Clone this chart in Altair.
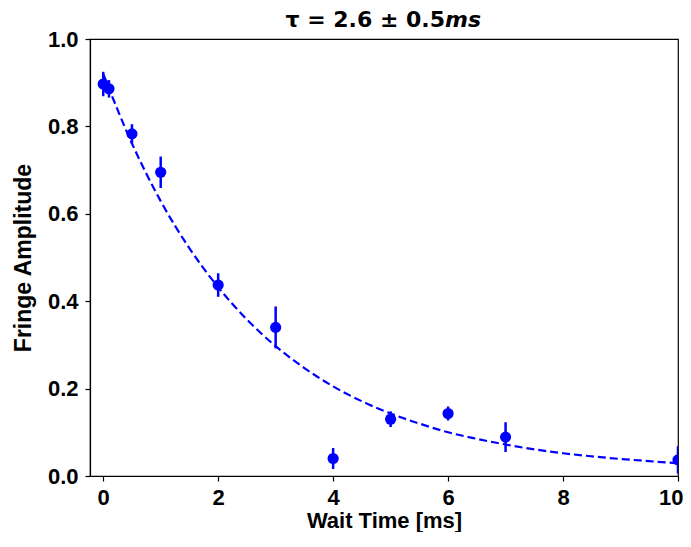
import altair as alt
import pandas as pd

# measured data
wait_time = [0.0, 0.1, 0.5, 1.0, 2.0, 3.0, 4.0, 5.0, 6.0, 7.0, 10.0]
amplitude = [0.897, 0.886, 0.783, 0.695, 0.437, 0.340, 0.040, 0.130, 0.143, 0.089, 0.037]
amp_err = [0.028, 0.020, 0.022, 0.036, 0.027, 0.048, 0.024, 0.018, 0.016, 0.034, 0.031]

# fit curve
fit_t = [0.0, 0.5, 1.0, 1.5, 2.0, 2.5, 3.0, 3.5, 4.0, 4.5, 5.0, 5.5, 6.0, 6.5, 7.0,
         7.5, 8.0, 8.5, 9.0, 9.5, 10.0]
fit_y = [0.920, 0.761, 0.629, 0.521, 0.432, 0.358, 0.297, 0.247, 0.205, 0.171, 0.143,
         0.120, 0.100, 0.085, 0.072, 0.061, 0.052, 0.045, 0.039, 0.034, 0.029]

x_ticks = [0, 2, 4, 6, 8, 10]
y_ticks = [0.0, 0.2, 0.4, 0.6, 0.8, 1.0]

pts = pd.DataFrame({"t": wait_time, "a": amplitude, "e": amp_err})
pts["lo"] = pts["a"] - pts["e"]
pts["hi"] = pts["a"] + pts["e"]
fit = pd.DataFrame({"t": fit_t, "y": fit_y})

BLUE = "#0000ff"
LAB_FONT = "'Liberation Sans', Arial, sans-serif"

xs = alt.Scale(domain=[-0.23, 10], nice=False, zero=False)
ys = alt.Scale(domain=[0, 1], nice=False)

xaxis = alt.Axis(values=x_ticks, format="d", title="Wait Time [ms]", grid=False,
                 tickSize=5, labelPadding=6, titlePadding=2, titleFontSize=22,
                 labelFlush=True, labelFlushOffset=5)
yaxis = alt.Axis(values=y_ticks, format=".1f", title="Fringe Amplitude", grid=False,
                 tickSize=5, labelPadding=7, titlePadding=12)

line = alt.Chart(fit).mark_line(color=BLUE, strokeWidth=2.2, strokeDash=[8, 4], clip=True,
                                interpolate="monotone").encode(
    x=alt.X("t:Q", scale=xs, axis=xaxis),
    y=alt.Y("y:Q", scale=ys, axis=yaxis),
)

bars = alt.Chart(pts).mark_rule(color=BLUE, strokeWidth=2.5, clip=True).encode(
    x=alt.X("t:Q", scale=xs),
    y=alt.Y("lo:Q", scale=ys),
    y2="hi:Q",
)

dots = alt.Chart(pts).mark_point(filled=True, color=BLUE, opacity=1, size=125, clip=True).encode(
    x=alt.X("t:Q", scale=xs),
    y=alt.Y("a:Q", scale=ys),
)

title_main = alt.Chart(pd.DataFrame({"s": ["τ = 2.6 ± 0.5"]})).mark_text(
    font="DejaVu Sans", fontWeight="bold", fontSize=22, align="right", baseline="alphabetic",
    color="black").encode(text="s:N", x=alt.value(355), y=alt.value(-12))
title_ms = alt.Chart(pd.DataFrame({"s": ["ms"]})).mark_text(
    font="DejaVu Sans", fontWeight="bold", fontStyle="italic", fontSize=22, align="left",
    baseline="alphabetic", color="black").encode(text="s:N", x=alt.value(355), y=alt.value(-12))

chart = alt.layer(line, bars, dots, title_main, title_ms).properties(
    width=588, height=437,
    autosize=alt.AutoSizeParams(type="none"),
    padding={"left": 82, "top": 31, "right": 5, "bottom": 56},
).configure_view(stroke="black", strokeWidth=1.2).configure_axis(
    labelFont=LAB_FONT, labelFontWeight="bold", labelFontSize=22, labelColor="black",
    titleFont=LAB_FONT, titleFontWeight="bold", titleFontSize=23, titleColor="black",
    domainColor="black", tickColor="black", domainWidth=1.2, tickWidth=1.2,
)

chart.save("out.html", embed_options={"renderer": "svg", "actions": False})
